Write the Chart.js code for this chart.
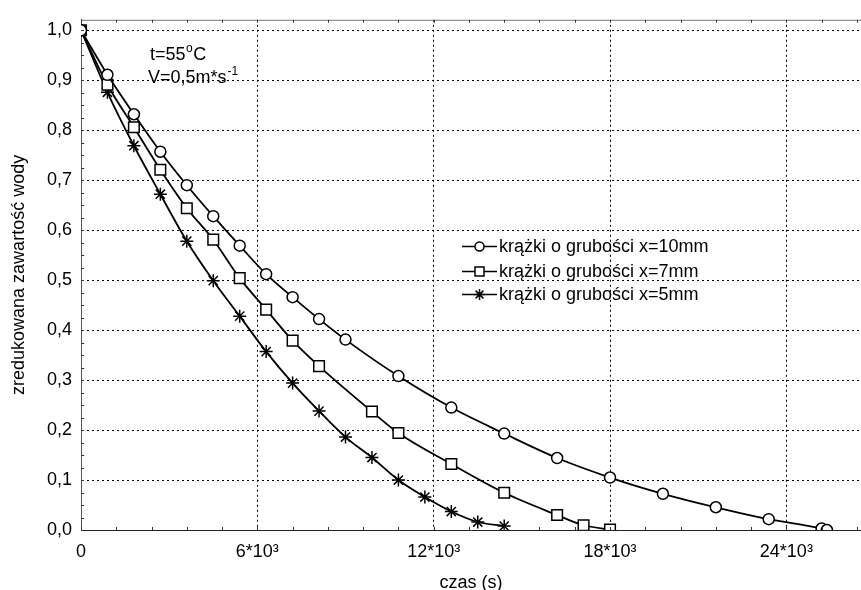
<!DOCTYPE html>
<html>
<head>
<meta charset="utf-8">
<script src="https://cdn.jsdelivr.net/npm/chart.js@4.4.1/dist/chart.umd.min.js"></script>
<style>
  html, body { margin: 0; padding: 0; background: #fff; }
  #wrap { width: 861px; height: 590px; }
</style>
</head>
<body>
<div id="wrap"><canvas id="chart"></canvas></div>
<script>
// data (time in s, reduced water content)
const seriesLabels = ['krążki o grubości x=10mm', 'krążki o grubości x=7mm', 'krążki o grubości x=5mm'];

const times10 = [0, 900, 1800, 2700, 3600, 4500, 5400, 6300, 7200, 8100, 9000, 10800, 12600, 14400, 16200, 18000, 19800, 21600, 23400, 25200, 25380];
const values10 = [1.0, 0.911, 0.832, 0.757, 0.690, 0.628, 0.569, 0.512, 0.466, 0.422, 0.381, 0.308, 0.245, 0.193, 0.144, 0.105, 0.0725, 0.0455, 0.0217, 0.003, 0.0];

const times7 = [0, 900, 1800, 2700, 3600, 4500, 5400, 6300, 7200, 8100, 9900, 10800, 12600, 14400, 16200, 17100, 18000];
const values7 = [1.0, 0.891, 0.806, 0.721, 0.644, 0.581, 0.504, 0.441, 0.379, 0.328, 0.237, 0.194, 0.132, 0.0745, 0.030, 0.0095, 0.001];

const times5 = [0, 900, 1800, 2700, 3600, 4500, 5400, 6300, 7200, 8100, 9000, 9900, 10800, 11700, 12600, 13500, 14400];
const values5 = [1.0, 0.876, 0.769, 0.672, 0.578, 0.499, 0.428, 0.357, 0.294, 0.238, 0.186, 0.145, 0.100, 0.066, 0.037, 0.016, 0.008];

const xTicks = [0, 6000, 12000, 18000, 24000];
const xTickLabels = ['0', '6*10³', '12*10³', '18*10³', '24*10³'];
const yTicks = [0, 0.1, 0.2, 0.3, 0.4, 0.5, 0.6, 0.7, 0.8, 0.9, 1.0];
const yTickLabels = ['0,0', '0,1', '0,2', '0,3', '0,4', '0,5', '0,6', '0,7', '0,8', '0,9', '1,0'];

const FONT = 'Liberation Sans, Arial, sans-serif';

function toPoints(xs, ys) {
  return xs.map((x, i) => ({ x: x, y: ys[i] }));
}

function drawMarker(ctx, style, x, y, r) {
  ctx.beginPath();
  if (style === 'circle') {
    ctx.arc(x, y, r, 0, Math.PI * 2);
    ctx.fill();
    ctx.stroke();
  } else if (style === 'rect') {
    ctx.rect(x - r, y - r, r * 2, r * 2);
    ctx.fill();
    ctx.stroke();
  } else {
    for (let a = 0; a < 4; a++) {
      const ang = a * Math.PI / 4;
      ctx.moveTo(x - Math.cos(ang) * r, y - Math.sin(ang) * r);
      ctx.lineTo(x + Math.cos(ang) * r, y + Math.sin(ang) * r);
    }
    ctx.stroke();
  }
}

const extras = {
  id: 'extras',
  afterDraw(chart) {
    const ctx = chart.ctx;
    const area = chart.chartArea;
    const xs = chart.scales.x;
    const ys = chart.scales.y;
    ctx.save();

    // top frame
    ctx.strokeStyle = '#777';
    ctx.lineWidth = 1;
    ctx.beginPath();
    ctx.moveTo(area.left, area.top + 0.5);
    ctx.lineTo(area.right, area.top + 0.5);
    ctx.stroke();

    // minor ticks pointing inward
    ctx.strokeStyle = '#333';
    ctx.beginPath();
    for (let v = 0; v <= 1.0001; v += 0.025) {
      const py = Math.round(ys.getPixelForValue(v)) + 0.5;
      ctx.moveTo(area.left, py);
      ctx.lineTo(area.left + 3, py);
    }
    for (let t = 0; t <= xs.max; t += 1200) {
      const px = Math.round(xs.getPixelForValue(t)) + 0.5;
      ctx.moveTo(px, area.bottom);
      ctx.lineTo(px, area.bottom - 3);
      ctx.moveTo(px, area.top);
      ctx.lineTo(px, area.top + 3);
    }
    ctx.stroke();

    // conditions text
    ctx.fillStyle = '#000';
    ctx.textBaseline = 'alphabetic';
    ctx.textAlign = 'left';
    ctx.font = '18px ' + FONT;
    let w = ctx.measureText('t=55').width;
    ctx.fillText('t=55', 150, 60);
    ctx.font = '12px ' + FONT;
    ctx.fillText('o', 150 + w + 0.5, 52);
    let w2 = ctx.measureText('o').width;
    ctx.font = '18px ' + FONT;
    ctx.fillText('C', 150 + w + w2 + 1, 60);
    w = ctx.measureText('V=0,5m*s').width;
    ctx.fillText('V=0,5m*s', 148, 83);
    ctx.font = '12px ' + FONT;
    ctx.fillText('-1', 148 + w + 1, 75);

    // legend
    const rows = [246, 271, 294];
    const styles = ['circle', 'rect', 'star'];
    const sizes = [4.5, 4.5, 5.5];
    ctx.lineWidth = 1.5;
    ctx.strokeStyle = '#000';
    rows.forEach((ry, i) => {
      ctx.beginPath();
      ctx.moveTo(462, ry + 0.5);
      ctx.lineTo(497, ry + 0.5);
      ctx.stroke();
      ctx.fillStyle = '#fff';
      drawMarker(ctx, styles[i], 479.5, ry + 0.5, sizes[i]);
      ctx.fillStyle = '#000';
      ctx.font = '18px ' + FONT;
      ctx.textBaseline = 'middle';
      ctx.fillText(seriesLabels[i], 499, ry + 1);
    });
    ctx.restore();
  }
};

const lineStyle = {
  borderColor: '#000',
  borderWidth: 1.8,
  pointBorderColor: '#000',
  pointBackgroundColor: '#fff',
  pointBorderWidth: 1.5,
  cubicInterpolationMode: 'monotone',
  fill: false
};

new Chart(document.getElementById('chart'), {
  type: 'line',
  data: {
    datasets: [
      Object.assign({ label: seriesLabels[0], data: toPoints(times10, values10), pointStyle: 'circle', pointRadius: 5.5 }, lineStyle),
      Object.assign({ label: seriesLabels[1], data: toPoints(times7, values7), pointStyle: 'rect', pointRadius: 7.5 }, lineStyle),
      Object.assign({ label: seriesLabels[2], data: toPoints(times5, values5), pointStyle: 'star', pointRadius: 6.5 }, lineStyle)
    ]
  },
  options: {
    responsive: true,
    maintainAspectRatio: false,
    animation: false,
    layout: { autoPadding: false, padding: { top: 14, right: 0, left: 0, bottom: 0 } },
    plugins: {
      legend: { display: false },
      tooltip: { enabled: false }
    },
    scales: {
      x: {
        type: 'linear',
        min: 0,
        max: 26540,
        afterBuildTicks: (scale) => { scale.ticks = xTicks.map(v => ({ value: v })); },
        afterFit: (scale) => { scale.height = 60; },
        ticks: {
          autoSkip: false,
          maxRotation: 0,
          padding: 11,
          color: '#000',
          font: { family: FONT, size: 18 },
          callback: (v) => xTickLabels[xTicks.indexOf(v)]
        },
        grid: {
          drawTicks: false,
          color: (c) => (c.tick && c.tick.value === 0) ? 'rgba(0,0,0,0)' : '#000',
          lineWidth: 1
        },
        border: { display: true, color: '#222', width: 1, dash: [2, 3] },
        title: {
          display: true,
          text: 'czas (s)',
          color: '#000',
          font: { family: FONT, size: 18, lineHeight: 0.8 },
          padding: { top: 0, bottom: 0 }
        }
      },
      y: {
        min: 0,
        max: 1.021,
        afterBuildTicks: (scale) => { scale.ticks = yTicks.map(v => ({ value: v })); },
        afterFit: (scale) => { scale.width = 81; },
        ticks: {
          padding: 9,
          color: '#000',
          font: { family: FONT, size: 18 },
          callback: (v) => yTickLabels[yTicks.indexOf(v)]
        },
        grid: {
          drawTicks: false,
          color: (c) => (c.tick && c.tick.value === 0) ? 'rgba(0,0,0,0)' : '#000',
          lineWidth: 1
        },
        border: { display: true, color: '#555', width: 1, dash: [2, 3] },
        title: {
          display: true,
          text: 'zredukowana zawartość wody',
          color: '#000',
          font: { family: FONT, size: 18 },
          padding: { top: 8, bottom: 0 }
        }
      }
    }
  },
  plugins: [extras]
});
</script>
</body>
</html>
